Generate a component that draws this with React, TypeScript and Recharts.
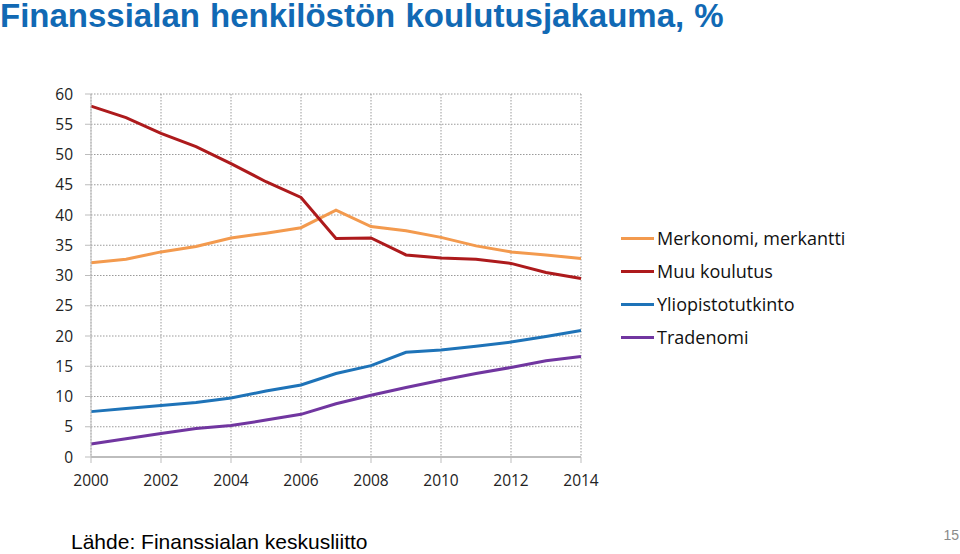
import React from 'react';
import { LineChart, Line, XAxis, YAxis, CartesianGrid } from 'recharts';

const years = [2000, 2001, 2002, 2003, 2004, 2005, 2006, 2007, 2008, 2009, 2010, 2011, 2012, 2013, 2014];
const merkonomi = [32.1, 32.7, 33.9, 34.8, 36.2, 37.0, 37.9, 40.8, 38.1, 37.4, 36.3, 34.9, 33.9, 33.4, 32.8];
const muuKoulutus = [58.0, 56.1, 53.5, 51.3, 48.5, 45.5, 42.9, 36.1, 36.2, 33.4, 32.9, 32.7, 32.0, 30.5, 29.5];
const yliopisto = [7.5, 8.0, 8.5, 9.0, 9.75, 10.9, 11.9, 13.8, 15.1, 17.3, 17.7, 18.3, 19.0, 19.9, 20.9];
const tradenomi = [2.15, 3.0, 3.9, 4.7, 5.2, 6.1, 7.05, 8.8, 10.2, 11.5, 12.7, 13.8, 14.8, 15.9, 16.6];

const xTicks = [2000, 2002, 2004, 2006, 2008, 2010, 2012, 2014];
const yTicks = [0, 5, 10, 15, 20, 25, 30, 35, 40, 45, 50, 55, 60];

const seriesInfo = [
  { key: 'merkonomi', name: 'Merkonomi, merkantti', color: '#F39A4E' },
  { key: 'muu', name: 'Muu koulutus', color: '#AD1A1C' },
  { key: 'yliopisto', name: 'Yliopistotutkinto', color: '#1E73B8' },
  { key: 'tradenomi', name: 'Tradenomi', color: '#7136A0' },
];

const data = years.map((y, i) => ({
  year: y,
  merkonomi: merkonomi[i],
  muu: muuKoulutus[i],
  yliopisto: yliopisto[i],
  tradenomi: tradenomi[i],
}));

const tickFont = { fontFamily: 'Open Sans', fontSize: 15.5, fill: '#222' };

export default function App() {
  return (
    <div style={{ position: 'absolute', left: 0, top: 0, width: 960, height: 554, background: '#fff', overflow: 'hidden' }}>
      <div style={{ position: 'absolute', left: 0, top: 0 }}>
        <LineChart width={960} height={554} data={data} margin={{ top: 94, right: 379, bottom: 67, left: 41 }}>
          <CartesianGrid stroke="#9a9a9a" strokeDasharray="1.5 1.5" verticalValues={xTicks} />
          <XAxis
            dataKey="year"
            type="number"
            domain={[2000, 2014]}
            ticks={xTicks}
            height={30}
            tick={tickFont}
            tickSize={6}
            tickMargin={12}
            axisLine={{ stroke: '#bdbdbd', strokeWidth: 2 }}
            tickLine={{ stroke: '#bdbdbd' }}
          />
          <YAxis
            type="number"
            domain={[0, 60]}
            ticks={yTicks}
            width={50}
            tick={tickFont}
            tickSize={6}
            tickMargin={12}
            axisLine={{ stroke: '#bdbdbd' }}
            tickLine={{ stroke: '#bdbdbd' }}
            interval={0}
          />
          {seriesInfo.map((s) => (
            <Line
              key={s.key}
              type="linear"
              dataKey={s.key}
              name={s.name}
              stroke={s.color}
              strokeWidth={3}
              dot={false}
              activeDot={false}
              isAnimationActive={false}
            />
          ))}
        </LineChart>
      </div>
      <div style={{ position: 'absolute', left: 621, top: 222, fontFamily: 'Open Sans', fontSize: 18, color: '#111' }}>
        {seriesInfo.map((s) => (
          <div key={s.key} style={{ display: 'flex', alignItems: 'center', height: 33 }}>
            <div style={{ width: 33, height: 3, background: s.color, marginRight: 3 }} />
            <span style={{ lineHeight: '33px', whiteSpace: 'nowrap' }}>{s.name}</span>
          </div>
        ))}
      </div>
      <div style={{ position: 'absolute', left: 0, top: -1, fontFamily: 'Liberation Sans, Arial, sans-serif', fontWeight: 'bold', fontSize: 33, lineHeight: '33px', color: '#1169B4', whiteSpace: 'nowrap', wordSpacing: 1 }}>
        Finanssialan henkilöstön koulutusjakauma, %
      </div>
      <div style={{ position: 'absolute', left: 71, top: 531, fontFamily: 'Liberation Sans, Arial, sans-serif', fontSize: 21, lineHeight: '21px', color: '#000', whiteSpace: 'nowrap' }}>
        Lähde: Finanssialan keskusliitto
      </div>
      <div style={{ position: 'absolute', right: 1, top: 528, fontFamily: 'Liberation Sans, Arial, sans-serif', fontSize: 14, lineHeight: '14px', color: '#8a8a8a' }}>
        15
      </div>
    </div>
  );
}
